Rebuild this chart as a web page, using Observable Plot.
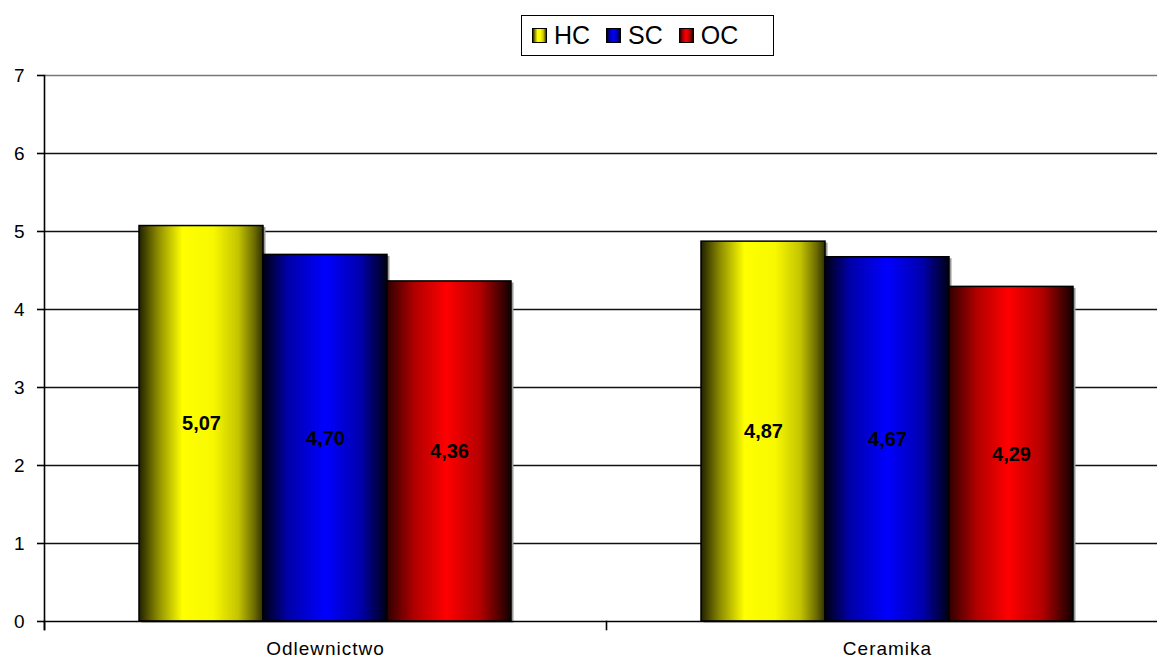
<!DOCTYPE html>
<html>
<head>
<meta charset="utf-8">
<script src="https://cdn.jsdelivr.net/npm/d3@7"></script>
<script src="https://cdn.jsdelivr.net/npm/@observablehq/plot@0.6"></script>
<style>
  html, body { margin: 0; padding: 0; background: #fff; }
  #wrap { position: relative; width: 1157px; height: 659px; overflow: hidden; font-family: "Liberation Sans", Arial, sans-serif; }
  #legend { position: absolute; left: 521px; top: 15px; width: 251px; height: 39px; border: 1.5px solid #000; background: #fff;
            display: flex; align-items: center; gap: 0; font-size: 25px; color: #000; }
  .item { display: flex; align-items: center; margin-left: 10px; }
  .item + .item { margin-left: 16px; }
  .sw { width: 13px; height: 13px; border: 1.5px solid #000; margin-right: 7px; }
</style>
</head>
<body>
<div id="wrap">
  <div id="chart"></div>
  <div id="legend"></div>
</div>
<script>
// Branches, series and measured values
const categories = ["Odlewnictwo", "Ceramika"];
const series = ["HC", "SC", "OC"];
const valuesOdlewnictwo = [5.07, 4.70, 4.36];
const valuesCeramika = [4.87, 4.67, 4.29];
const yTicks = [0, 1, 2, 3, 4, 5, 6, 7];

// Horizontal shading per series (dark edges, bright centre)
const gradients = {
  HC: [[0, "#202000"], [0.15, "#8a8a00"], [0.35, "#ffff00"], [0.6, "#f8f800"], [0.8, "#c4c400"], [0.93, "#6c6c00"], [1, "#303000"]],
  SC: [[0, "#000012"], [0.2, "#0000a8"], [0.5, "#0000ff"], [0.78, "#0000b0"], [1, "#000014"]],
  OC: [[0, "#300000"], [0.22, "#b00000"], [0.48, "#ff0000"], [0.75, "#b40000"], [1, "#120000"]]
};

const rows = [];
categories.forEach((c, i) => {
  const vals = i === 0 ? valuesOdlewnictwo : valuesCeramika;
  series.forEach((s, j) => rows.push({cat: c, series: s, value: vals[j]}));
});

const fmt = v => v.toFixed(2).replace(".", ",");

const width = 1168, height = 659;
const marginTop = 75, marginBottom = 38, marginLeft = 44, marginRight = 0;
const plotHeight = height - marginTop - marginBottom;

const chart = Plot.plot({
  width, height, marginTop, marginBottom, marginLeft, marginRight,
  style: {fontFamily: "'Liberation Sans', Arial, sans-serif", color: "#000", background: "#fff", maxWidth: "none"},
  fx: {domain: categories, padding: 0, label: null},
  x: {domain: series, paddingInner: 0, paddingOuter: 0.756, axis: null},
  y: {domain: [0, 7], label: null},
  color: {domain: series, range: series.map(s => `url(#grad-${s})`)},
  marks: [
    Plot.gridY([1, 2, 3, 4, 5, 6], {stroke: "#111", strokeOpacity: 1, strokeWidth: 1.6}),
    Plot.ruleY([7], {stroke: "#777", strokeWidth: 1.6}),
    // soft drop shadow on the right of each bar
    Plot.barY(rows, {fx: "cat", x: "series", y: "value", fill: "#9a9a9a", dx: 2.5, dy: 1.5}),
    Plot.barY(rows, {fx: "cat", x: "series", y: "value", fill: "series", stroke: "#000", strokeWidth: 1.5}),
    Plot.text(rows, {fx: "cat", x: "series", y: d => d.value / 2, text: d => fmt(d.value),
      fontWeight: "bold", fontSize: 20, fill: "#000"}),
    Plot.ruleY([0], {stroke: "#000", strokeWidth: 1.6}),
    // vertical axis line, extending slightly below zero
    Plot.frame({anchor: "left", facetAnchor: "left", stroke: "#000", strokeWidth: 1.6, insetBottom: -8}),
    // category separator ticks below the axis
    Plot.frame({anchor: "left", stroke: "#000", strokeWidth: 1.6, insetTop: plotHeight, insetBottom: -8}),
    Plot.axisY({ticks: yTicks, tickFormat: d => String(d), tickSize: 7, tickPadding: 13, fontSize: 19, label: null, stroke: "#000", strokeWidth: 1.6}),
    Plot.axisFx({anchor: "bottom", tickSize: 0, tickPadding: 20, fontSize: 19, label: null})
  ]
});

// gradient definitions referenced by the color scale
const svg = d3.select(chart);
const defs = svg.insert("defs", ":first-child");
for (const s of series) {
  const g = defs.append("linearGradient").attr("id", `grad-${s}`).attr("x1", 0).attr("x2", 1).attr("y1", 0).attr("y2", 0);
  for (const [o, c] of gradients[s]) g.append("stop").attr("offset", o).attr("stop-color", c);
}
svg.selectAll("g[aria-label='fx-axis tick label'] text").style("letter-spacing", "1px");

document.getElementById("chart").appendChild(chart);

// legend
const legend = d3.select("#legend");
for (const s of series) {
  const it = legend.append("div").attr("class", "item");
  const stops = gradients[s].map(([o, c]) => `${c} ${o * 100}%`).join(", ");
  it.append("div").attr("class", "sw").style("background", `linear-gradient(to right, ${stops})`);
  it.append("span").text(s);
}
</script>
</body>
</html>
